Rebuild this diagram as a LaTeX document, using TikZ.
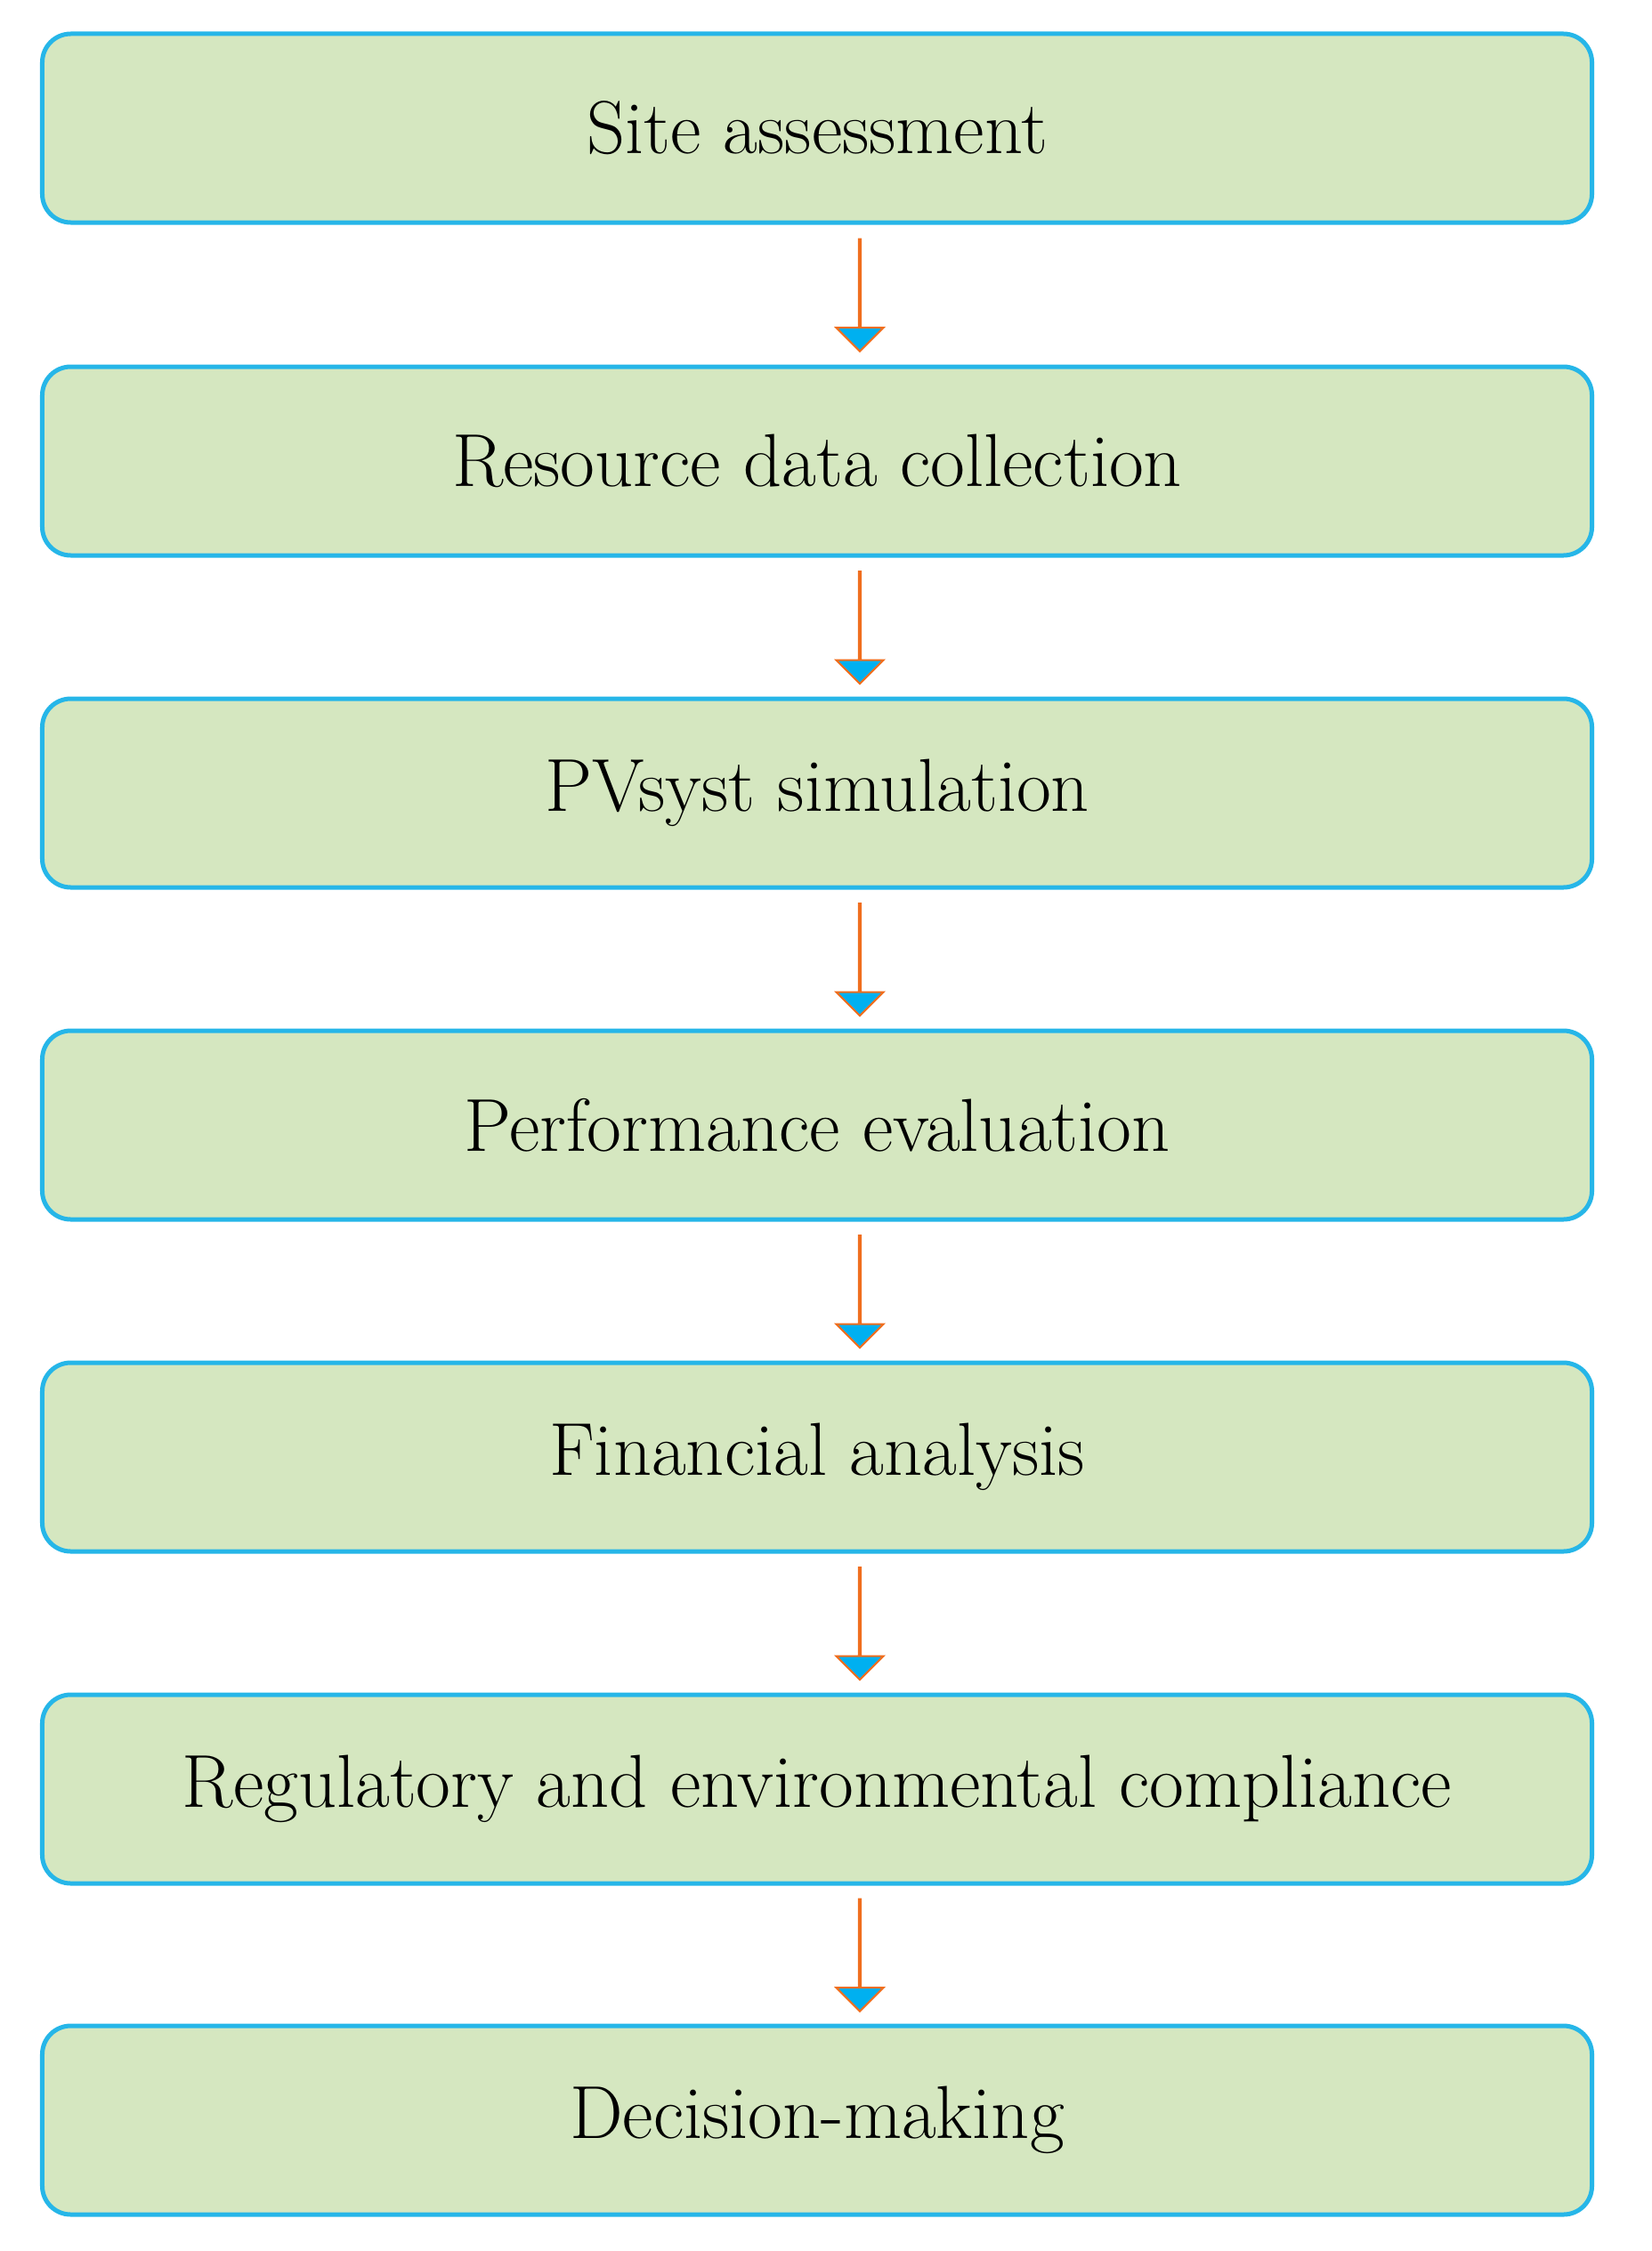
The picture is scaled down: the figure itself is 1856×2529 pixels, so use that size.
\documentclass[tikz,border=0pt]{standalone}
\usetikzlibrary{shapes.arrows}
\definecolor{boxfill}{RGB}{213,231,192}
\definecolor{boxline}{RGB}{38,182,232}
\definecolor{arrfill}{RGB}{0,176,240}
\definecolor{arrcap}{RGB}{240,110,30}

\begin{document}
\begin{tikzpicture}[
        x=0.2mm, y=-0.2mm,
        stage/.style={rounded corners=6.4mm, draw=boxline, fill=boxfill, line width=1mm,
            minimum width=348.2mm, minimum height=42.4mm, font=\fontsize{48}{58}\selectfont},
        down/.style={single arrow, single arrow head extend=4.2mm, minimum height=25.2mm,
            minimum width=10.6mm, inner sep=0pt, shape border rotate=270, fill=arrfill,
            draw=arrcap, line width=0.4mm,
            path picture={\fill[arrcap] (path picture bounding box.north west) rectangle
                ([yshift=-2.4mm]path picture bounding box.north east);}},
    ]
    \useasboundingbox (0,0) rectangle (1856,2529);

    \node[stage] (1) at (918,144) {Site assessment};
    \node[stage] (2) at (918,518) {Resource data collection};
    \node[stage] (3) at (918,891) {PVsyst simulation};
    \node[stage] (4) at (918,1264) {Performance evaluation};
    \node[stage] (5) at (918,1637) {Financial analysis};
    \node[stage] (6) at (918,2010) {Regulatory and environmental compliance};
    \node[stage] (7) at (918,2382) {Decision-making};

    \path
    (1) -- node[down, xshift=9.6mm] {} (2)
    (2) -- node[down, xshift=9.6mm] {} (3)
    (3) -- node[down, xshift=9.6mm] {} (4)
    (4) -- node[down, xshift=9.6mm] {} (5)
    (5) -- node[down, xshift=9.6mm] {} (6)
    (6) -- node[down, xshift=9.6mm] {} (7)
    ;
\end{tikzpicture}
\end{document}
